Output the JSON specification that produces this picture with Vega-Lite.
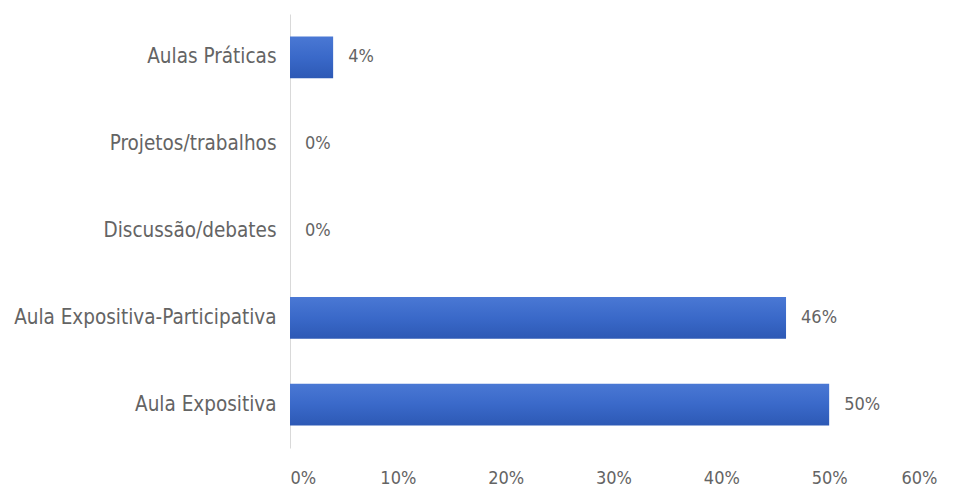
{
  "$schema": "https://vega.github.io/schema/vega-lite/v6.json",
  "width": 647,
  "height": 434,
  "autosize": "none",
  "padding": {"left": 290, "top": 14, "right": 23, "bottom": 46},
  "background": "white",
  "config": {"view": {"stroke": null}, "font": "DejaVu Sans Condensed"},
  "data": {
    "values": [
      {"metodo": "Aulas Práticas", "valor": 0.04},
      {"metodo": "Projetos/trabalhos", "valor": 0.0},
      {"metodo": "Discussão/debates", "valor": 0.0},
      {"metodo": "Aula Expositiva-Participativa", "valor": 0.46},
      {"metodo": "Aula Expositiva", "valor": 0.5}
    ]
  },
  "encoding": {
    "y": {
      "field": "metodo",
      "type": "nominal",
      "sort": null,
      "scale": {"paddingInner": 0.52, "paddingOuter": 0.26},
      "axis": {
        "title": null,
        "ticks": false,
        "domain": true,
        "domainColor": "#d9d9d9",
        "labelFontSize": 20.5,
        "labelColor": "#646464",
        "labelPadding": 14,
        "labelLimit": 400,
        "labelFont": "DejaVu Sans Condensed"
      }
    },
    "x": {
      "field": "valor",
      "type": "quantitative",
      "scale": {"domain": [0, 0.6], "nice": false},
      "axis": {
        "title": null,
        "format": ".0%",
        "values": [0, 0.1, 0.2, 0.3, 0.4, 0.5, 0.6],
        "grid": false,
        "domain": false,
        "ticks": false,
        "labelFontSize": 18,
        "labelColor": "#646464",
        "labelPadding": 21,
        "labelFont": "DejaVu Sans Condensed"
      }
    }
  },
  "layer": [
    {
      "mark": {
        "type": "bar",
        "fill": {
          "gradient": "linear",
          "x1": 0, "y1": 0, "x2": 0, "y2": 1,
          "stops": [
            {"offset": 0, "color": "#4a78d4"},
            {"offset": 0.5, "color": "#3a69c9"},
            {"offset": 1, "color": "#2d59b5"}
          ]
        }
      }
    },
    {
      "mark": {
        "type": "text",
        "align": "left",
        "baseline": "middle",
        "dx": 15,
        "fontSize": 18,
        "color": "#646464",
        "font": "DejaVu Sans Condensed"
      },
      "encoding": {
        "text": {"field": "valor", "type": "quantitative", "format": ".0%"}
      }
    }
  ]
}
